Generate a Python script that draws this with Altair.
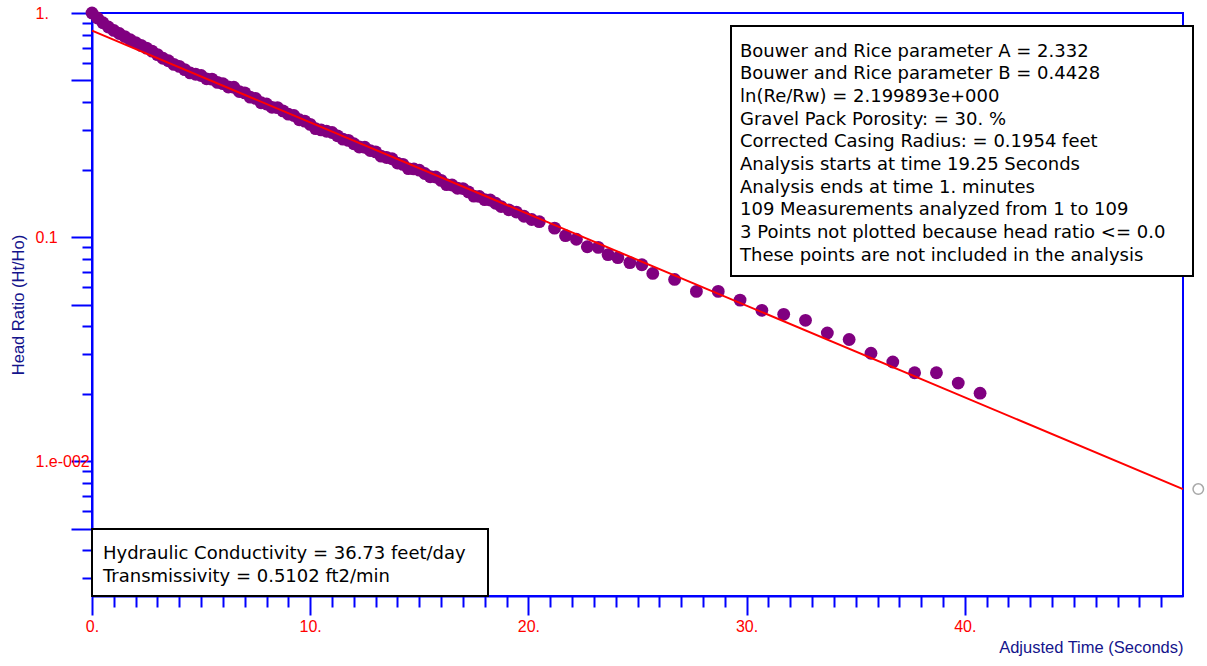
import altair as alt
import pandas as pd

# ---- data ----
time_s = [
    0.0, 0.25, 0.5, 0.75, 1.0, 1.25, 1.5, 1.75, 2.0, 2.25, 2.5, 2.75,
    3.0, 3.25, 3.5, 3.75, 4.0, 4.25, 4.5, 4.75, 5.0, 5.25, 5.5, 5.75,
    6.0, 6.25, 6.5, 6.75, 7.0, 7.25, 7.5, 7.75, 8.0, 8.25, 8.5, 8.75,
    9.0, 9.25, 9.5, 9.75, 10.0, 10.25, 10.5, 10.75, 11.0, 11.25, 11.5, 11.75,
    12.0, 12.25, 12.5, 12.75, 13.0, 13.25, 13.5, 13.75, 14.0, 14.25, 14.5, 14.75,
    15.0, 15.25, 15.5, 15.75, 16.0, 16.25, 16.5, 16.75, 17.0, 17.25, 17.5, 17.75,
    18.0, 18.25, 18.5, 18.75, 19.1, 19.45, 19.8, 20.15, 20.5,
    21.2, 21.7, 22.2, 22.7, 23.2, 23.65, 24.1, 24.65, 25.2,
    25.7, 26.7, 27.7, 28.7, 29.7, 30.7, 31.7, 32.7, 33.7, 34.7, 35.7, 36.7,
    37.7, 38.7, 39.7, 40.7,
]
head_ratio = [
    1.000, 0.950, 0.905, 0.866, 0.836, 0.810, 0.785, 0.760, 0.738, 0.717, 0.697, 0.676,
    0.652, 0.628, 0.612, 0.590, 0.5780, 0.5588, 0.5402, 0.5331, 0.5260, 0.5085, 0.5070, 0.4901,
    0.4837, 0.4676, 0.4661, 0.4460, 0.4402, 0.4212, 0.4156, 0.3977, 0.3924, 0.3794, 0.3782, 0.3656,
    0.3535, 0.3488, 0.3338, 0.3293, 0.3184, 0.3046, 0.3007, 0.2967, 0.2928, 0.2830, 0.2736, 0.2700,
    0.2610, 0.2523, 0.2516, 0.2432, 0.2400, 0.2297, 0.2266, 0.2237, 0.2139, 0.2111, 0.2020, 0.2014,
    0.1988, 0.1922, 0.1858, 0.1853, 0.1790, 0.1713, 0.1708, 0.1651, 0.1646, 0.1591, 0.1523, 0.1518,
    0.1468, 0.1463, 0.1415, 0.1368, 0.1323, 0.1293, 0.1238, 0.1198, 0.1171,
    0.1096, 0.1014, 0.0978, 0.0905, 0.0899, 0.0835, 0.0809, 0.0769, 0.0752,
    0.0688, 0.0647, 0.0572, 0.0572, 0.0523, 0.0471, 0.0452, 0.0425, 0.0373, 0.0349, 0.0303, 0.0277,
    0.0248, 0.0248, 0.0223, 0.0201,
]
fit_time = [0.0, 50.0]
fit_ratio = [0.834, 0.0075]
handle_time = [50.7]
handle_ratio = [0.0075]

x_tick_values = list(range(0, 50))
y_tick_values = [1, 0.9, 0.8, 0.7, 0.6, 0.5, 0.4, 0.3, 0.2,
                 0.1, 0.09, 0.08, 0.07, 0.06, 0.05, 0.04, 0.03, 0.02,
                 0.01, 0.009, 0.008, 0.007, 0.006, 0.005, 0.004, 0.003]

info_lines = [
    "Bouwer and Rice parameter A = 2.332",
    "Bouwer and Rice parameter B = 0.4428",
    "ln(Re/Rw) = 2.199893e+000",
    "Gravel Pack Porosity: = 30. %",
    "Corrected Casing Radius: = 0.1954 feet",
    "Analysis starts at time 19.25 Seconds",
    "Analysis ends at time 1. minutes",
    "109 Measurements analyzed from 1 to 109",
    "3 Points not plotted because head ratio <= 0.0",
    "These points are not included in the analysis",
]
result_lines = [
    "Hydraulic Conductivity = 36.73 feet/day",
    "Transmissivity = 0.5102 ft2/min",
]

# ---- styling ----
W, H = 1091, 583
BLUE = "#0000ff"
RED = "#ff0000"
NAVY = "#14148c"
BOX_FONT = "DejaVu Sans"
AXIS_FONT = "Liberation Sans"

mant = "(datum.value / pow(10, floor(log(datum.value) / LN10 + 1e-6)))"
y_major = f"abs({mant} - 1) < 0.01 || abs({mant} - 5) < 0.01"
x_major = "datum.value % 10 == 0"

xscale = alt.Scale(domain=[0, 50], nice=False, zero=False)
yscale = alt.Scale(type="log", domain=[0.0025, 1], nice=False)

xaxis = alt.Axis(
    values=x_tick_values,
    title="Adjusted Time (Seconds)",
    labelExpr="datum.value % 10 == 0 ? format(datum.value, 'd') + '.' : ''",
    labelOverlap=False,
    labelFlush=False,
    labelBaseline="middle",
    labelPadding=11,
    tickSize={"condition": {"test": x_major, "value": 19}, "value": 11},
    titleX=W,
    titleY=51,
    titleAlign="right",
    titleBaseline="middle",
)
yaxis = alt.Axis(
    values=y_tick_values,
    title="Head Ratio (Ht/Ho)",
    labelExpr=("abs(datum.value - 1) < 1e-6 ? '1.' : "
               "abs(datum.value - 0.1) < 1e-7 ? '0.1' : "
               "abs(datum.value - 0.01) < 1e-8 ? '1.e-002' : ''"),
    labelOverlap=False,
    labelFlush=False,
    labelAlign="left",
    labelBaseline="middle",
    labelPadding=36,
    tickSize={"condition": {"test": y_major, "value": 21}, "value": 10},
    titleX=-74,
    titleY=H / 2,
    titleAngle=270,
    titleAlign="center",
    titleBaseline="middle",
)

X = alt.X("t:Q", scale=xscale, axis=xaxis)
Y = alt.Y("r:Q", scale=yscale, axis=yaxis)

pts_df = pd.DataFrame({"t": time_s, "r": head_ratio})
fit_df = pd.DataFrame({"t": fit_time, "r": fit_ratio})
handle_df = pd.DataFrame({"t": handle_time, "r": handle_ratio})
one = pd.DataFrame({"k": [0]})

points = alt.Chart(pts_df).mark_circle(size=165, color="#800080", opacity=1).encode(x=X, y=Y)
fit = alt.Chart(fit_df).mark_line(color=RED, strokeWidth=2).encode(x=X, y=Y)
handle = alt.Chart(handle_df).mark_point(
    shape="circle", size=110, filled=True, fill="white", stroke="#a8a8a8", strokeWidth=1.5, opacity=1
).encode(x=X, y=Y)

box1 = alt.Chart(one).mark_rect(fill="white", stroke="black", strokeWidth=2).encode(
    x=alt.value(639), x2=alt.value(1101), y=alt.value(13), y2=alt.value(263)
)
text1 = alt.Chart(one).mark_text(
    align="left", baseline="alphabetic", font=BOX_FONT, fontSize=18, lineHeight=22.7, color="black"
).encode(x=alt.value(648), y=alt.value(43.5), text=alt.value(info_lines))

box2 = alt.Chart(one).mark_rect(fill="white", stroke="black", strokeWidth=2).encode(
    x=alt.value(0), x2=alt.value(396), y=alt.value(516), y2=alt.value(583)
)
text2 = alt.Chart(one).mark_text(
    align="left", baseline="alphabetic", font=BOX_FONT, fontSize=18, lineHeight=22.5, color="black"
).encode(x=alt.value(11), y=alt.value(546), text=alt.value(result_lines))

chart = (
    alt.layer(points, fit, handle, box1, text1, box2, text2)
    .properties(
        width=W,
        height=H,
        autosize=alt.AutoSizeParams(type="none"),
        padding={"left": 92, "top": 13, "right": 24, "bottom": 70},
        background="white",
    )
    .configure_view(stroke=BLUE, strokeWidth=2)
    .configure_axis(
        grid=False,
        domainColor=BLUE,
        domainWidth=2,
        tickColor=BLUE,
        tickWidth=2,
        labelColor=RED,
        labelFont=AXIS_FONT,
        labelFontSize=16,
        titleColor=NAVY,
        titleFont=AXIS_FONT,
        titleFontSize=16.5,
        titleFontWeight="normal",
    )
)

chart.save("out.html", embed_options={"renderer": "svg", "actions": False})
